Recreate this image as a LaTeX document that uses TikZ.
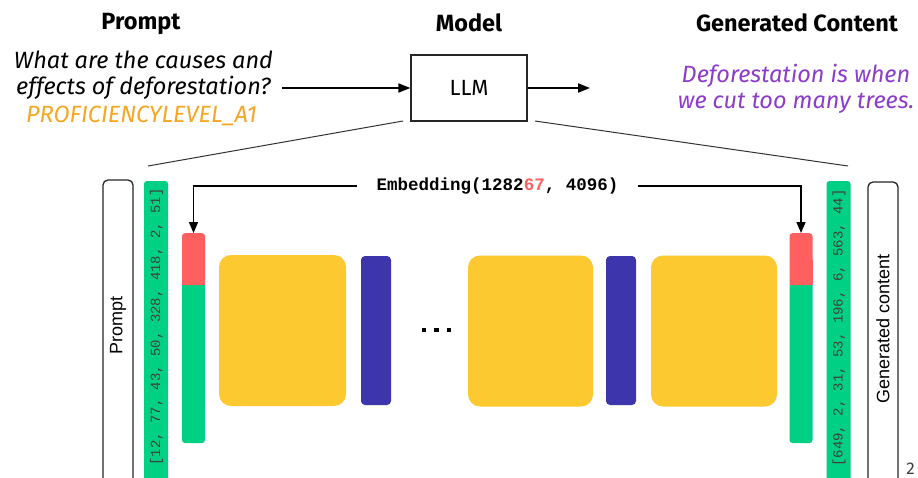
\documentclass[tikz,border=0pt]{standalone}
\usepackage{fontspec}
\setmainfont{Fira Sans}
\newfontfamily\arialf{Liberation Sans}
\newfontfamily\monof{Liberation Mono}
\usetikzlibrary{arrows.meta}
\definecolor{tokgreen}{HTML}{00D084}
\definecolor{embred}{HTML}{FF5F5F}
\definecolor{blkyellow}{HTML}{FCC930}
\definecolor{blkblue}{HTML}{3C35AB}
\definecolor{promptorange}{HTML}{F5A623}
\definecolor{genpurple}{HTML}{8B3CCB}
\tikzset{
  heading/.style={font=\fontsize{23.5}{28}\selectfont\bfseries, anchor=base, inner sep=0pt},
  qtext/.style={font=\fontsize{23.5}{28}\selectfont\itshape, anchor=base, inner sep=0pt},
  whitebox/.style={draw=black!85, line width=1.3pt, rounded corners=5pt, fill=white, inner sep=0pt},
  tokbar/.style={fill=tokgreen, rounded corners=3pt, inner sep=0pt, minimum width=24pt},
  tokfont/.style={font=\monof\fontsize{14}{16}\selectfont, text=black!75, rotate=90, inner sep=0pt},
  sidefont/.style={font=\arialf\fontsize{18}{20}\selectfont, rotate=90, inner sep=0pt},
  yblock/.style={fill=blkyellow, rounded corners=12pt, inner sep=0pt, minimum height=151pt},
  bblock/.style={fill=blkblue, rounded corners=4pt, inner sep=0pt, minimum width=30pt, minimum height=149pt},
  bigarrow/.style={line width=1.8pt, -{Triangle[length=12pt,width=9pt]}},
  smallarrow/.style={line width=1.6pt, -{Triangle[length=11pt,width=9pt]}},
  zoomline/.style={line width=1pt, black!80},
  dot/.style={fill=black, inner sep=0pt, minimum size=4.5pt}
}
\begin{document}
\begin{tikzpicture}[x=1pt,y=-1pt]
\path[use as bounding box] (0,0) rectangle (918,477);
\clip (0,0) rectangle (918,477);
% headings
\node[heading] (hprompt) at (141,29) {Prompt};
\node[heading] (hmodel) at (469,31) {Model};
\node[heading] (hgen) at (797,31) {Generated Content};
% question
\node[qtext] (q1) at (143.5,68) {What are the causes and};
\node[qtext] (q2) at (143.5,94) {effects of deforestation?};
\node[qtext, text=promptorange] (q3) at (141.5,122) {PROFICIENCYLEVEL\_A1};
% answer
\node[qtext, text=genpurple] (a1) at (796,82) {Deforestation is when};
\node[qtext, text=genpurple] (a2) at (796,108) {we cut too many trees.};
% LLM box
\node[draw=black!85, line width=1.2pt, minimum width=116pt, minimum height=66pt, inner sep=0pt,
      font=\fontsize{22}{26}\selectfont] (llm) at (469,88) {LLM};
\coordinate (qend) at (282,88);
\coordinate (outend) at (590,88);
\draw[bigarrow] (qend) -- (llm.west);
\draw[bigarrow] (llm.east) -- (outend);
% zoom lines
\coordinate (zl1) at (403,121);
\coordinate (zl2) at (148,166);
\coordinate (zr1) at (535,121);
\coordinate (zr2) at (848,166);
\draw[zoomline] (zl1) -- (zl2);
\draw[zoomline] (zr1) -- (zr2);
% left side
\node[whitebox, minimum width=30pt, minimum height=306pt] (pbox) at (118,333) {};
\node[sidefont] (ptext) at (118,325) {Prompt};
\node[tokbar, minimum height=306pt] (ltok) at (156,334) {};
\node[tokfont] (ltoktext) at (156.5,327) {[12, 77, 43, 50, 328, 418, 2, 51]};
% left embedding column
\node[fill=tokgreen, inner sep=0pt, minimum width=23pt, minimum height=162pt, rounded corners=3pt] (lemb) at (193.5,362) {};
\node[fill=embred, inner sep=0pt, minimum width=23pt, minimum height=52pt, rounded corners=3pt, anchor=north] (lred) at (193.5,233) {};
\fill[embred] (182,260) rectangle (205,285);
% right embedding column
\node[fill=tokgreen, inner sep=0pt, minimum width=23pt, minimum height=162pt, rounded corners=3pt] (remb) at (801,362) {};
\node[fill=embred, inner sep=0pt, minimum width=23pt, minimum height=52pt, rounded corners=3pt, anchor=north] (rred) at (801,233) {};
\fill[embred] (789.5,260) rectangle (812.5,285);
% blocks
\node[yblock, minimum width=127pt] (y1) at (282.5,330.5) {};
\node[bblock] (b1) at (376,330.5) {};
\node[dot] (d1) at (424,330) {};
\node[dot] (d2) at (436.5,330) {};
\node[dot] (d3) at (449,330) {};
\node[yblock, minimum width=125pt] (y2) at (530.5,331) {};
\node[bblock] (b2) at (621,330.5) {};
\node[yblock, minimum width=126pt] (y3) at (714,331) {};
% right side
\node[tokbar, minimum height=306pt] (rtok) at (838.5,334) {};
\node[tokfont] (rtoktext) at (839,328) {[649, 2, 31, 53, 196, 6, 563, 44]};
\node[whitebox, minimum width=30pt, minimum height=306pt] (gbox) at (883,335) {};
\node[sidefont] (gtext) at (883,329) {Generated content};
% embedding label and arrows
\node[font=\monof\fontsize{17.5}{20}\selectfont\bfseries, inner xsep=20pt, inner ysep=0pt] (emb) at (497.5,186)
  {Embedding(1282\textcolor{embred}{67}, 4096)};
\draw[smallarrow] (emb.west) -| (lred.north);
\draw[smallarrow] (emb.east) -| (rred.north);
% page number
\node[font=\fontsize{17}{20}\selectfont, text=black!75, anchor=base, inner sep=0pt] (pnum) at (910.5,474) {2};
\end{tikzpicture}
\end{document}
